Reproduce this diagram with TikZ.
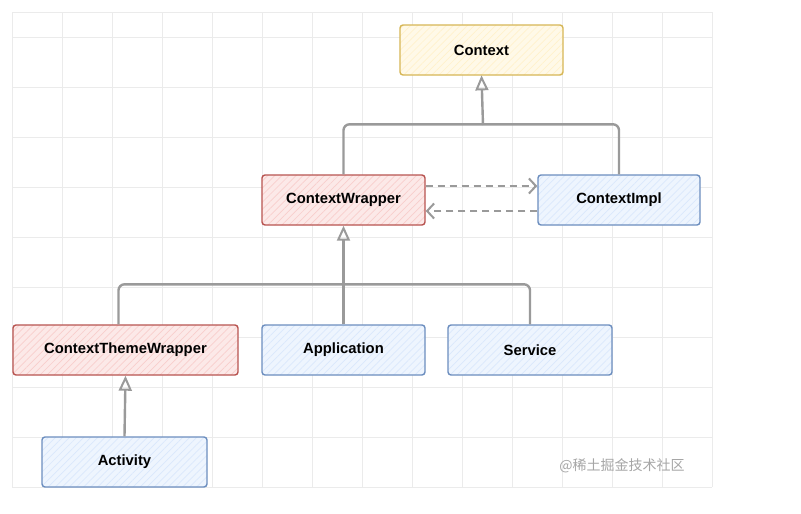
\documentclass[tikz,border=0pt]{standalone}
\usepackage{fontspec}
\setmainfont{Liberation Sans}
\newfontfamily\cjk{Noto Sans CJK SC}
\usetikzlibrary{arrows.meta,patterns.meta,calc}
\definecolor{yfill}{HTML}{FFF2CC}\definecolor{ydraw}{HTML}{D6B656}
\definecolor{rfill}{HTML}{F8CECC}\definecolor{rdraw}{HTML}{B85450}
\definecolor{bfill}{HTML}{DAE8FC}\definecolor{bdraw}{HTML}{6C8EBF}
\definecolor{gridc}{HTML}{EBEBEB}
\definecolor{connc}{HTML}{9A9A9A}
\tikzset{
  box/.style={minimum height=50pt, inner sep=0pt, rounded corners=3pt, line width=1.4pt,
    font=\fontsize{14.8}{16}\selectfont\bfseries},
  ybox/.style={box, draw=ydraw, preaction={fill=yfill!45!white},
    pattern={Lines[angle=45,distance=5pt,line width=0.7pt]}, pattern color=yfill},
  rbox/.style={box, draw=rdraw, preaction={fill=rfill!45!white},
    pattern={Lines[angle=45,distance=5pt,line width=0.7pt]}, pattern color=rfill},
  bbox/.style={box, draw=bdraw, preaction={fill=bfill!45!white},
    pattern={Lines[angle=45,distance=5pt,line width=0.7pt]}, pattern color=bfill},
  conn/.style={draw=connc, line width=2.4pt, rounded corners=6pt},
  inh/.style={conn, -{Triangle[open, length=15pt, width=13pt, line width=2pt]}},
  dep/.style={draw=connc, line width=2.2pt, dash pattern=on 7pt off 5pt,
    -{Straight Barb[length=7pt, width=15pt, line width=2pt]}},
}
\begin{document}
\begin{tikzpicture}[x=1pt,y=-1pt]
\useasboundingbox (0,0) rectangle (801,514);
\fill[white] (0,0) rectangle (801,514);
% grid
\foreach \gx in {12,62,...,712} \draw[gridc, line width=0.8pt] (\gx,12) -- (\gx,487);
\foreach \gy in {12,37,87,137,187,237,287,337,387,437,487} \draw[gridc, line width=0.8pt] (12,\gy) -- (712,\gy);
% nodes
\node[ybox, minimum width=163pt] (context) at (481.5,50) {Context};
\node[rbox, minimum width=163pt] (cw) at (343.5,200) {ContextWrapper};
\node[bbox, minimum width=162pt] (ci) at (619,200) {ContextImpl};
\node[rbox, minimum width=225pt] (ctw) at (125.5,350) {ContextThemeWrapper};
\node[bbox, minimum width=163pt] (app) at (343.5,350) {Application};
\node[bbox, minimum width=164pt] (svc) at (530,350) {Service};
\node[bbox, minimum width=165pt] (act) at (124.5,462) {Activity};
\node[font=\cjk\fontsize{14}{16}\selectfont, text=black!35] (wm) at (622,466) {@稀土掘金技术社区};
% connectors
\coordinate (j1) at (483,125);
\draw[conn] (cw.north) -- ++(0,-50) -| (ci.north);
\draw[inh] (j1) -- (context.south);
\draw[conn] ([xshift=-7pt]ctw.north) -- ++(0,-40) -| (svc.north);
\draw[inh] (app.north) -- (cw.south);
\draw[inh] (act.north) -- (ctw.south);
\draw[dep] ([yshift=14pt]cw.east) -- ([yshift=14pt]ci.west);
\draw[dep] ([yshift=-11pt]ci.west) -- ([yshift=-11pt]cw.east);
\end{tikzpicture}
\end{document}
